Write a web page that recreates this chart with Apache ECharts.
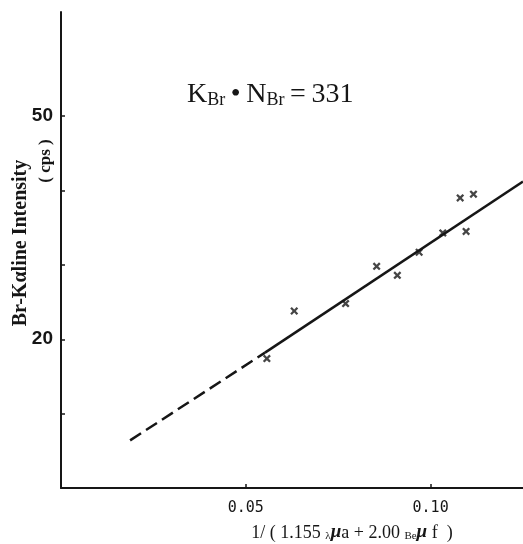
<!DOCTYPE html>
<html>
<head>
<meta charset="utf-8">
<script src="https://cdn.jsdelivr.net/npm/echarts@6/dist/echarts.min.js"></script>
<style>
html,body{margin:0;padding:0;background:#fff;}
#chart{width:523px;height:544px;}
</style>
</head>
<body>
<div id="chart"></div>
<script>
// Measured points (x = 1/(1.155 λμa + 2.00 Be μf), y = Br-Kα intensity, cps)
const pointsX = [0.0557, 0.0631, 0.0770, 0.0854, 0.0910, 0.0969, 0.1033, 0.1080, 0.1096, 0.1116];
const pointsY = [17.4, 23.8, 24.8, 29.8, 28.6, 31.7, 34.3, 39.0, 34.5, 39.5];
// Fitted line (slope = K·N = 331): dashed extrapolated part, then solid part
const dashedX = [0.0187, 0.0552];
const dashedY = [6.4, 18.2];
const solidX = [0.0552, 0.125];
const solidY = [18.2, 41.2];
// Axis ticks / labels
const xTicks = [0.05, 0.10];
const xTickLabels = ['0.05', '0.10'];
const yTicks = [10, 20, 30, 40, 50];
const yLabelValues = [20, 50];

const zip = (a, b) => a.map((v, i) => [v, b[i]]);
const ink = '#161616';
const xMark = 'path://M0,2L2,0L5,3L8,0L10,2L7,5L10,8L8,10L5,7L2,10L0,8L3,5Z';

const chart = echarts.init(document.getElementById('chart'));
chart.setOption({
  animation: false,
  backgroundColor: '#ffffff',
  grid: { left: 61, right: 0, top: 12, bottom: 56 },
  xAxis: {
    type: 'value', min: 0, max: 0.125,
    axisLine: { show: true, lineStyle: { color: ink, width: 2 } },
    axisTick: { show: true, inside: true, length: 4, customValues: xTicks, lineStyle: { color: ink, width: 1.5 } },
    axisLabel: {
      customValues: xTicks,
      formatter: v => { const i = xTicks.findIndex(t => Math.abs(t - v) < 1e-9); return i >= 0 ? xTickLabels[i] : ''; },
      margin: 13, color: ink, fontFamily: 'DejaVu Sans Mono', fontSize: 15
    },
    splitLine: { show: false }
  },
  yAxis: {
    type: 'value', min: 0, max: 64,
    axisLine: { show: true, lineStyle: { color: ink, width: 2 } },
    axisTick: { show: true, inside: true, length: 4, customValues: yTicks, lineStyle: { color: ink, width: 1.5 } },
    axisLabel: {
      customValues: yLabelValues,
      margin: 8, color: ink, fontFamily: 'Liberation Sans', fontWeight: 'bold', fontSize: 19
    },
    splitLine: { show: false }
  },
  series: [
    {
      type: 'line', data: zip(dashedX, dashedY), symbol: 'none',
      lineStyle: { color: ink, width: 2.5, type: [13, 6] }
    },
    {
      type: 'line', data: zip(solidX, solidY), symbol: 'none',
      lineStyle: { color: ink, width: 2.5 }
    },
    {
      type: 'scatter', data: zip(pointsX, pointsY), symbol: xMark, symbolSize: 8,
      itemStyle: { color: ink }
    }
  ],
  graphic: [
    {
      type: 'text', left: 187, top: 81,
      style: {
        text: '{m|K}{s|Br}{m|\u2009•\u2009N}{s|Br}{m|\u2009=\u2009331}',
        fill: ink,
        rich: {
          m: { fontFamily: 'Liberation Serif', fontSize: 28, fill: ink, verticalAlign: 'bottom', lineHeight: 28 },
          s: { fontFamily: 'Liberation Serif', fontSize: 18, fill: ink, verticalAlign: 'bottom', lineHeight: 24 }
        }
      }
    },
    {
      type: 'text', x: 21, y: 243, rotation: Math.PI / 2,
      style: {
        text: 'Br-Kαline Intensity', fill: ink, align: 'center', verticalAlign: 'middle',
        fontFamily: 'Liberation Serif', fontWeight: 'bold', fontSize: 20
      }
    },
    {
      type: 'text', x: 46, y: 161, rotation: Math.PI / 2,
      style: {
        text: '( cps )', fill: ink, align: 'center', verticalAlign: 'middle',
        fontFamily: 'Liberation Serif', fontWeight: 'bold', fontSize: 17
      }
    },
    {
      type: 'text', x: 352, y: 532,
      style: {
        text: '{n|1/ ( 1.155 }{s|λ}{g|μ}{n|a + 2.00 }{s|Be}{g|μ}{n| f  )}',
        align: 'center', verticalAlign: 'middle', fill: ink,
        rich: {
          n: { fontFamily: 'Liberation Serif', fontSize: 18, fill: ink, verticalAlign: 'bottom', lineHeight: 20 },
          g: { fontFamily: 'Liberation Serif', fontSize: 19, fontStyle: 'italic', fontWeight: 'bold', fill: ink, verticalAlign: 'bottom', lineHeight: 20 },
          s: { fontFamily: 'Liberation Serif', fontSize: 11, fill: ink, verticalAlign: 'bottom', lineHeight: 17 }
        }
      }
    }
  ]
});
</script>
</body>
</html>
